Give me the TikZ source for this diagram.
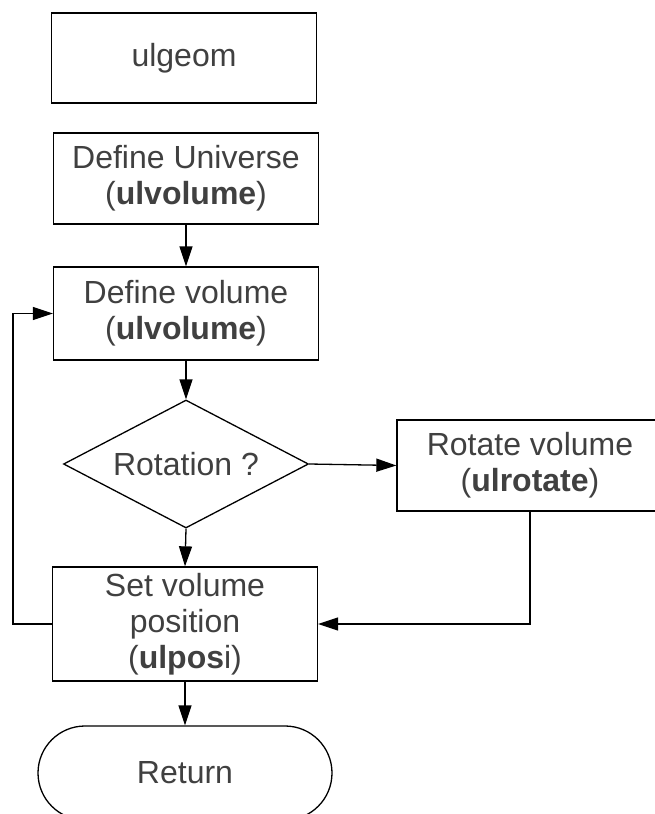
\documentclass[tikz,border=0pt]{standalone}
\usepackage{fontspec}
\setmainfont{Liberation Sans}
\usepackage{xcolor}
\usepackage{tikz}
\usetikzlibrary{positioning,arrows.meta,shapes.geometric,shapes.misc}
\definecolor{textGray}{HTML}{404040}

\begin{document}
\begin{tikzpicture}[x=1pt, y=-1pt,
    procbox/.style={draw, line width=1.3pt, minimum width=265pt, minimum height=91pt,
      inner sep=0pt, align=center, text=textGray, font=\fontsize{32}{36}\selectfont},
    decision/.style={draw, diamond, aspect=1.9, line width=1.3pt, minimum width=245pt,
      minimum height=128pt, inner sep=0pt, text=textGray, font=\fontsize{32}{36}\selectfont},
    terminal/.style={draw, rounded rectangle, line width=1.3pt, minimum width=294pt,
      minimum height=94pt, inner sep=0pt, text=textGray, font=\fontsize{32}{36}\selectfont},
    flow/.style={line width=1.3pt, -{Triangle[length=20pt,width=13pt]}}]
  \useasboundingbox (0,0) rectangle (655,814);

  % Main column
  \node[procbox, minimum height=90pt] (geom) at (184,58) {ulgeom};
  \node[procbox] (univ) at (186,178.5) {Define Universe\\(\textbf{ulvolume})};
  \node[procbox, minimum height=93pt] (vol) at (186,313.5) {Define volume\\(\textbf{ulvolume})};
  \node[decision] (rot) at (186,464) {Rotation ?};
  \node[procbox, minimum width=266pt] (rotbox) at (530,465.5) {Rotate volume\\(\textbf{ulrotate})};
  \node[procbox, minimum height=114pt] (setpos) at (185,624) {Set volume\\position\\(\textbf{ulpos}i)};
  \node[terminal] (ret) at (185,773) {Return};

  \coordinate (loop) at (13,624);

  % Connectors
  \draw[flow] (univ) -- (vol);
  \draw[flow] (vol) -- (rot);
  \draw[flow] (rot.east) -- (rotbox.west);
  \draw[flow] (rot.south) -- (setpos.north);
  \draw[flow] (rotbox.south) |- (setpos.east);
  \draw[flow] (setpos.west) -- (loop) |- (vol.west);
  \draw[flow] (setpos) -- (ret);
\end{tikzpicture}
\end{document}
